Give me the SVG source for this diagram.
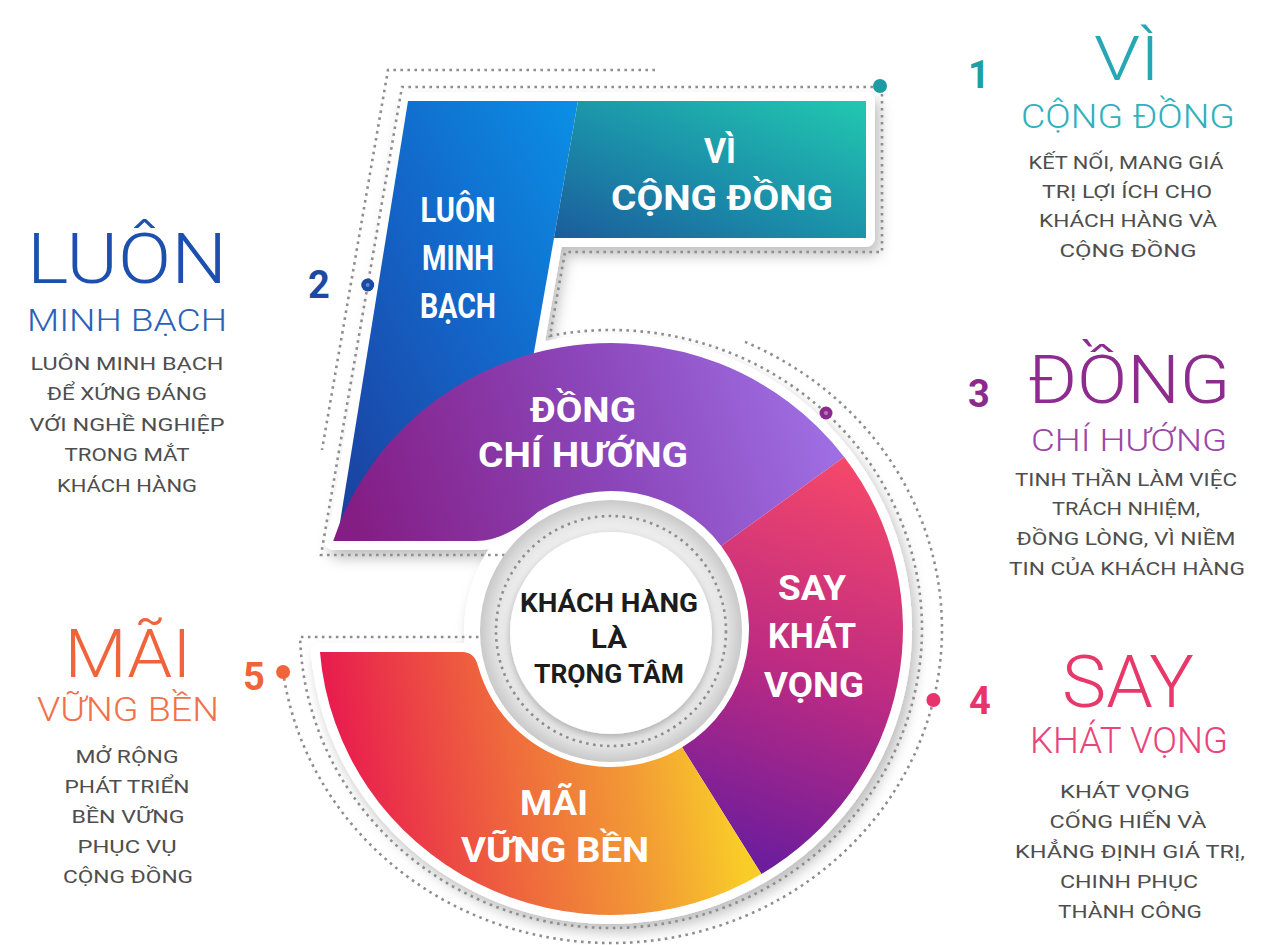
<svg xmlns="http://www.w3.org/2000/svg" width="1271" height="945" viewBox="0 0 1271 945">
<defs>
<style>
.in{font-family:Roboto,"Liberation Sans",sans-serif;font-weight:700;fill:#fff;text-anchor:middle;font-size:35px}
.dc{font-family:Roboto,"Liberation Sans",sans-serif;font-weight:700;fill:#1c1c1c;text-anchor:middle;font-size:25px}
.num{font-family:Roboto,"Liberation Sans",sans-serif;font-weight:700;font-size:38px;text-anchor:middle}
.hd{font-family:Roboto,"Open Sans","Liberation Sans",sans-serif;font-weight:300;text-anchor:middle}
.ds{font-family:Roboto,"Open Sans","Liberation Sans",sans-serif;font-weight:400;fill:#4e4e4e;text-anchor:middle;font-size:19px}
.dot{fill:none;stroke:#8e8e8e;stroke-width:2.6;stroke-dasharray:2.6 4.4}
</style>
<linearGradient id="gBlue" x1="1" y1="0" x2="0" y2="1"><stop offset="0" stop-color="#0a90e6"/><stop offset="0.5" stop-color="#1463c6"/><stop offset="1" stop-color="#1c3e9c"/></linearGradient>
<linearGradient id="gTeal" x1="0" y1="1" x2="1" y2="0"><stop offset="0" stop-color="#1b5c9c"/><stop offset="0.45" stop-color="#1b8ea9"/><stop offset="1" stop-color="#22c8b0"/></linearGradient>
<linearGradient id="gPurple" gradientUnits="userSpaceOnUse" x1="360" y1="545" x2="840" y2="400"><stop offset="0" stop-color="#841d84"/><stop offset="0.55" stop-color="#8c48bc"/><stop offset="1" stop-color="#a072e6"/></linearGradient>
<linearGradient id="gPink" gradientUnits="userSpaceOnUse" x1="860" y1="470" x2="720" y2="860"><stop offset="0" stop-color="#f4476a"/><stop offset="0.5" stop-color="#bd2b82"/><stop offset="1" stop-color="#681c9e"/></linearGradient>
<linearGradient id="gOrange" gradientUnits="userSpaceOnUse" x1="330" y1="760" x2="720" y2="700"><stop offset="0" stop-color="#e8194f"/><stop offset="0.45" stop-color="#ef6a3c"/><stop offset="0.75" stop-color="#f29a35"/><stop offset="1" stop-color="#f9cd28"/></linearGradient>
<radialGradient id="gRing" cx="0.5" cy="0.5" r="0.5"><stop offset="0.74" stop-color="#f4f4f4"/><stop offset="0.88" stop-color="#e4e4e4"/><stop offset="1" stop-color="#c9c9c9"/></radialGradient>
<filter id="sh" x="-20%" y="-20%" width="140%" height="140%"><feDropShadow dx="5" dy="8" stdDeviation="7" flood-color="#000" flood-opacity="0.25"/></filter>
<filter id="sh2" x="-20%" y="-20%" width="140%" height="140%"><feDropShadow dx="0" dy="3" stdDeviation="4" flood-color="#000" flood-opacity="0.3"/></filter>
<path id="pBlue" d="M408,101 L578,101 L520,432 L337,541 Z"/>
<path id="pTeal" d="M578,101 L866,101 L866,238 L554,238 Z"/>
<path id="pPurple" d="M333.2,541 A292 286 0 0 1 844.2,456.9 L721.2,545.9 A138 138 0 0 0 537.9,512 Q505,541 476,541 Z"/>
<path id="pPink" d="M844.2,456.9 A292 286 0 0 1 761.4,874.1 L682.1,747.3 A138 138 0 0 0 721.2,545.9 Z"/>
<path id="pOrange" d="M761.4,874.1 A292 286 0 0 1 319.95,652 L462,652 Q475,652 478.3,667 A138 138 0 0 0 682.1,747.3 Z"/>
</defs>
<rect width="1271" height="945" fill="#fff"/>

<g id="plate" filter="url(#sh)" fill="#fff" stroke="#fff" stroke-width="18" stroke-linejoin="round">
<use href="#pBlue"/><use href="#pTeal"/><use href="#pPurple"/><use href="#pPink"/><use href="#pOrange"/>
<circle cx="611" cy="631" r="138"/>
</g>

<g id="connectors">
<path class="dot" d="M655,70 L388,70 L322,450"/>
<path class="dot" d="M880,87 L402,87 L321,555 L524.7,555"/>
<path class="dot" d="M882,87 L882,252 L565,252 L550,335.8 A311 299 0 1 1 300.1,637 L496,637"/>
<path class="dot" d="M745,341.9 A331 314 0 1 1 283.1,672"/>
</g>

<g id="node-luon-minh-bach">
<use href="#pBlue" fill="url(#gBlue)"/>
<text class="in" x="458" y="222" textLength="75" lengthAdjust="spacingAndGlyphs">LUÔN</text>
<text class="in" x="458" y="270" textLength="72" lengthAdjust="spacingAndGlyphs">MINH</text>
<text class="in" x="458" y="318" textLength="76" lengthAdjust="spacingAndGlyphs">BẠCH</text>
</g>
<g id="node-vi-cong-dong">
<use href="#pTeal" fill="url(#gTeal)"/>
<text class="in" x="720" y="163" textLength="32" lengthAdjust="spacingAndGlyphs">VÌ</text>
<text class="in" x="722" y="210" textLength="222" lengthAdjust="spacingAndGlyphs">CỘNG ĐỒNG</text>
</g>
<g id="node-dong-chi-huong">
<use href="#pPurple" fill="url(#gPurple)"/>
<text class="in" x="583" y="422" textLength="106" lengthAdjust="spacingAndGlyphs">ĐỒNG</text>
<text class="in" x="583" y="467" textLength="210" lengthAdjust="spacingAndGlyphs">CHÍ HƯỚNG</text>
</g>
<g id="node-say-khat-vong">
<use href="#pPink" fill="url(#gPink)"/>
<text class="in" x="812" y="600" textLength="68" lengthAdjust="spacingAndGlyphs">SAY</text>
<text class="in" x="812" y="648" textLength="88" lengthAdjust="spacingAndGlyphs">KHÁT</text>
<text class="in" x="814" y="697" textLength="100" lengthAdjust="spacingAndGlyphs">VỌNG</text>
</g>
<g id="node-mai-vung-ben">
<use href="#pOrange" fill="url(#gOrange)"/>
<text class="in" x="554" y="815" textLength="68" lengthAdjust="spacingAndGlyphs">MÃI</text>
<text class="in" x="555" y="862" textLength="188" lengthAdjust="spacingAndGlyphs">VỮNG BỀN</text>
</g>

<g id="node-center">
<circle cx="611" cy="631" r="131" fill="url(#gRing)"/>
<circle cx="611" cy="631" r="115" class="dot"/>
<circle cx="611" cy="633" r="101" fill="#fff" filter="url(#sh2)"/>
<text class="dc" x="609" y="612" textLength="178" lengthAdjust="spacingAndGlyphs">KHÁCH HÀNG</text>
<text class="dc" x="609" y="648" textLength="36" lengthAdjust="spacingAndGlyphs">LÀ</text>
<text class="dc" x="609" y="683" textLength="150" lengthAdjust="spacingAndGlyphs">TRỌNG TÂM</text>
</g>

<g id="markers">
<circle cx="880" cy="86" r="7" fill="#1a9ca2"/>
<circle cx="367.7" cy="285" r="6.5" fill="#1b4aa6"/><circle cx="367.7" cy="285" r="2" fill="#5f86cf"/>
<circle cx="826" cy="413" r="6.5" fill="#8a2a8e"/><circle cx="826" cy="413" r="2" fill="#b57cc0"/>
<circle cx="933.4" cy="700" r="7" fill="#e8336c"/>
<circle cx="283.1" cy="672" r="7" fill="#f0643c"/>
</g>

<g id="label-1">
<text class="num" x="979" y="88" fill="#1f9ea3">1</text>
<text class="hd" x="1127" y="80" font-size="62" fill="#27a7b3" textLength="66" lengthAdjust="spacingAndGlyphs">VÌ</text>
<text class="hd" x="1128" y="128" font-size="34" fill="#32b0bd" textLength="214" lengthAdjust="spacingAndGlyphs">CỘNG ĐỒNG</text>
<text class="ds" x="1126" y="169" textLength="195" lengthAdjust="spacingAndGlyphs">KẾT NỐI, MANG GIÁ</text>
<text class="ds" x="1127" y="198" textLength="170" lengthAdjust="spacingAndGlyphs">TRỊ LỢI ÍCH CHO</text>
<text class="ds" x="1128" y="227" textLength="178" lengthAdjust="spacingAndGlyphs">KHÁCH HÀNG VÀ</text>
<text class="ds" x="1128" y="257" textLength="137" lengthAdjust="spacingAndGlyphs">CỘNG ĐỒNG</text>
</g>

<g id="label-2">
<text class="num" x="319" y="298" fill="#1b4aa6">2</text>
<text class="hd" x="127" y="283" font-size="70" fill="#1c4fae" textLength="200" lengthAdjust="spacingAndGlyphs">LUÔN</text>
<text class="hd" x="127" y="331" font-size="31" fill="#2a62b8" textLength="200" lengthAdjust="spacingAndGlyphs">MINH BẠCH</text>
<text class="ds" x="127" y="370" textLength="193" lengthAdjust="spacingAndGlyphs">LUÔN MINH BẠCH</text>
<text class="ds" x="127" y="400" textLength="160" lengthAdjust="spacingAndGlyphs">ĐỂ XỨNG ĐÁNG</text>
<text class="ds" x="127" y="431" textLength="195" lengthAdjust="spacingAndGlyphs">VỚI NGHỀ NGHIỆP</text>
<text class="ds" x="127" y="461" textLength="125" lengthAdjust="spacingAndGlyphs">TRONG MẮT</text>
<text class="ds" x="127" y="492" textLength="140" lengthAdjust="spacingAndGlyphs">KHÁCH HÀNG</text>
</g>

<g id="label-3">
<text class="num" x="979" y="407" fill="#8c2a8c">3</text>
<text class="hd" x="1129" y="403" font-size="67" fill="#8e2b8e" textLength="203" lengthAdjust="spacingAndGlyphs">ĐỒNG</text>
<text class="hd" x="1129" y="451" font-size="31" fill="#9c46a8" textLength="196" lengthAdjust="spacingAndGlyphs">CHÍ HƯỚNG</text>
<text class="ds" x="1126" y="486" textLength="222" lengthAdjust="spacingAndGlyphs">TINH THẦN LÀM VIỆC</text>
<text class="ds" x="1126" y="515" textLength="148" lengthAdjust="spacingAndGlyphs">TRÁCH NHIỆM,</text>
<text class="ds" x="1126" y="545" textLength="219" lengthAdjust="spacingAndGlyphs">ĐỒNG LÒNG, VÌ NIỀM</text>
<text class="ds" x="1127" y="575" textLength="236" lengthAdjust="spacingAndGlyphs">TIN CỦA KHÁCH HÀNG</text>
</g>

<g id="label-4">
<text class="num" x="980" y="714" fill="#e8336c">4</text>
<text class="hd" x="1128" y="707" font-size="72" fill="#e8386a" textLength="132" lengthAdjust="spacingAndGlyphs">SAY</text>
<text class="hd" x="1129" y="753" font-size="36" fill="#e8457a" textLength="198" lengthAdjust="spacingAndGlyphs">KHÁT VỌNG</text>
<text class="ds" x="1125" y="798" textLength="130" lengthAdjust="spacingAndGlyphs">KHÁT VỌNG</text>
<text class="ds" x="1128" y="828" textLength="157" lengthAdjust="spacingAndGlyphs">CỐNG HIẾN VÀ</text>
<text class="ds" x="1130" y="858" textLength="230" lengthAdjust="spacingAndGlyphs">KHẲNG ĐỊNH GIÁ TRỊ,</text>
<text class="ds" x="1129" y="888" textLength="138" lengthAdjust="spacingAndGlyphs">CHINH PHỤC</text>
<text class="ds" x="1130" y="918" textLength="144" lengthAdjust="spacingAndGlyphs">THÀNH CÔNG</text>
</g>

<g id="label-5">
<text class="num" x="254" y="690" fill="#f0643c">5</text>
<text class="hd" x="128" y="677" font-size="66" fill="#f0643c" textLength="127" lengthAdjust="spacingAndGlyphs">MÃI</text>
<text class="hd" x="128" y="721" font-size="34" fill="#f0714a" textLength="182" lengthAdjust="spacingAndGlyphs">VỮNG BỀN</text>
<text class="ds" x="127" y="763" textLength="103" lengthAdjust="spacingAndGlyphs">MỞ RỘNG</text>
<text class="ds" x="127" y="793" textLength="125" lengthAdjust="spacingAndGlyphs">PHÁT TRIỂN</text>
<text class="ds" x="128" y="823" textLength="113" lengthAdjust="spacingAndGlyphs">BỀN VỮNG</text>
<text class="ds" x="127" y="853" textLength="99" lengthAdjust="spacingAndGlyphs">PHỤC VỤ</text>
<text class="ds" x="128" y="883" textLength="130" lengthAdjust="spacingAndGlyphs">CỘNG ĐỒNG</text>
</g>
</svg>
